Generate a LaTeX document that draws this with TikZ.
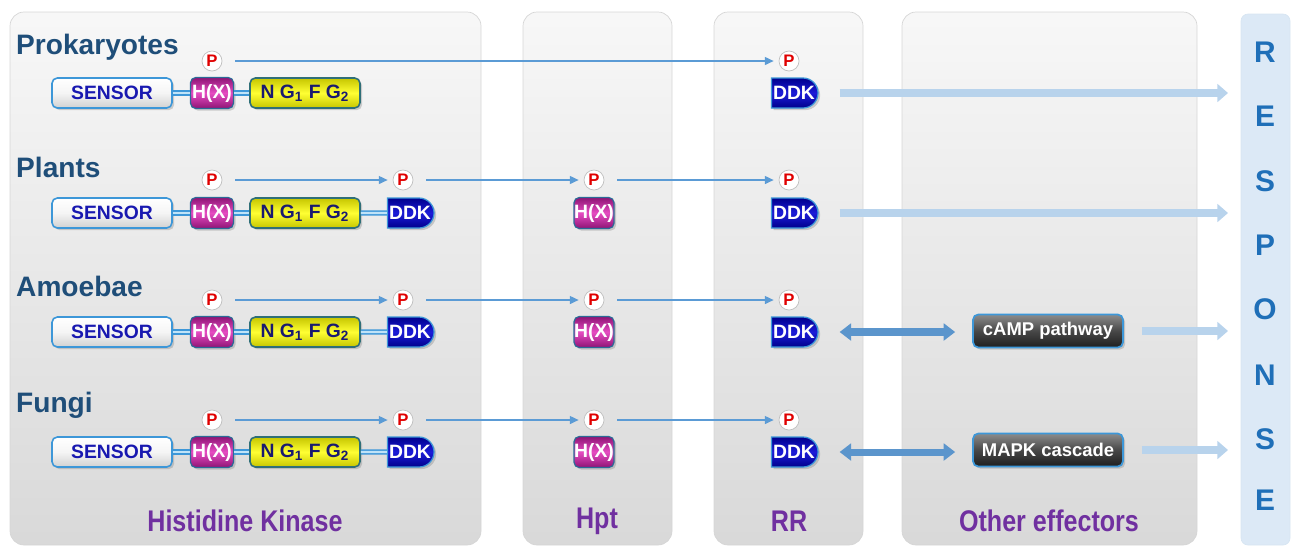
\documentclass[tikz,border=0pt]{standalone}
\usepackage{fontspec}
\setmainfont{Liberation Sans}
\usetikzlibrary{arrows.meta,shapes.misc,shadows}

\definecolor{rowblue}{HTML}{1F4E79}
\definecolor{labpurple}{HTML}{7030A0}
\definecolor{linkblue}{HTML}{3D97D8}
\definecolor{linklight}{HTML}{BFE3F8}
\definecolor{thinblue}{HTML}{5B9BD5}
\definecolor{fatblue}{HTML}{B8D3EC}
\definecolor{dblblue}{HTML}{5B95CC}
\definecolor{respblue}{HTML}{1F6FB8}
\definecolor{respfill}{HTML}{DCE9F6}
\definecolor{sensortext}{HTML}{1818B0}
\definecolor{hxdark}{HTML}{8E1474}
\definecolor{hxlight}{HTML}{E64CC2}
\definecolor{ddkdark}{HTML}{00008C}
\definecolor{ddklight}{HTML}{1C1CD8}
\definecolor{ngyellow}{HTML}{E8E800}
\definecolor{ngborder}{HTML}{2F6F78}
\definecolor{ngtext}{HTML}{1A1A70}
\definecolor{pred}{HTML}{E00000}

\newcommand{\boxfont}{\fontsize{11}{12}\selectfont\bfseries}

\tikzset{
  panel/.style={rounded corners=8pt, draw=black!16, top color=black!3, bottom color=black!15},
  shadowed/.style={drop shadow={opacity=0.35, shadow xshift=1.2pt, shadow yshift=-1.2pt}},
  sensorbox/.style={rectangle, rounded corners=3pt, draw=linkblue, line width=0.9pt, top color=white, bottom color=black!18, middle color=black!4,
    minimum width=2.4cm, minimum height=0.6cm, inner sep=0pt, text=sensortext, font=\boxfont, shadowed},
  hxbox/.style={rectangle, rounded corners=3pt, draw=linkblue!70!black, line width=0.7pt, top color=hxdark, bottom color=hxdark, middle color=hxlight,
    minimum width=0.86cm, minimum height=0.62cm, inner sep=0pt, text=white, font=\boxfont, shadowed},
  ngbox/.style={rectangle, rounded corners=3pt, draw=ngborder, line width=0.9pt, top color=ngyellow!85!black, bottom color=ngyellow!85!black, middle color=yellow!80!white,
    minimum width=2.2cm, minimum height=0.6cm, inner sep=0pt, text=ngtext, font=\boxfont, shadowed},
  ddkbox/.style={rounded rectangle, rounded rectangle left arc=none, draw=linkblue, line width=0.7pt, top color=ddkdark, bottom color=ddkdark, middle color=ddklight,
    minimum width=1.0cm, minimum height=0.6cm, inner sep=1pt, text=white, font=\boxfont, shadowed},
  effbox/.style={rectangle, rounded corners=3pt, draw=linkblue, line width=1pt, top color=black!45, bottom color=black!88, middle color=black!72,
    minimum width=3.0cm, minimum height=0.66cm, inner sep=0pt, text=white, font=\fontsize{10.5}{12}\selectfont\bfseries, shadowed},
  pcircle/.style={circle, draw=black!25, fill=white, minimum size=0.4cm, inner sep=0pt, text=pred, font=\fontsize{9.5}{10}\selectfont\bfseries},
  linker/.style={draw=linkblue, double=linklight, double distance=1.4pt, line width=0.75pt},
  thinarrow/.style={draw=thinblue, line width=0.8pt, -{Triangle[length=5pt,width=4.5pt]}, shorten <=0.26cm, shorten >=0.1cm},
  fatarrow/.style={draw=fatblue, line width=5pt, -{Triangle[length=6pt,width=10pt]}},
  dblarrow/.style={draw=dblblue, line width=4pt, {Triangle[length=6.5pt,width=9.5pt]}-{Triangle[length=6.5pt,width=9.5pt]}, shorten <=0.42cm, shorten >=0.34cm},
  rowlabel/.style={anchor=west, text=rowblue, font=\fontsize{16}{18}\selectfont\bfseries},
  collabel/.style={text=labpurple, font=\fontsize{17}{19}\selectfont\bfseries},
  resplabel/.style={text=respblue, font=\fontsize{17}{19}\selectfont\bfseries}
}

\begin{document}
\begin{tikzpicture}[x=0.02cm, y=-0.02cm]
		%%%%% START %%%%%
		\useasboundingbox (0,0) rectangle (1293,549);
		
		% columns
		\draw[panel] (10,12) rectangle (481,545);
		\draw[panel] (523,12) rectangle (672,545);
		\draw[panel] (714,12) rectangle (863,545);
		\draw[panel] (902,12) rectangle (1197,545);
		\draw[rounded corners=4pt, draw=respblue!18, fill=respfill] (1241,14) rectangle (1290,545);
		
		\node[collabel] (colhk) at (245,521) {\scalebox{0.84}[1]{Histidine Kinase}};
		\node[collabel] (colhpt) at (597,521) {\scalebox{0.84}[1]{Hpt}};
		\node[collabel] (colrr) at (789,521) {\scalebox{0.84}[1]{RR}};
		\node[collabel] (coloth) at (1049,521) {\scalebox{0.84}[1]{Other effectors}};
		
		\node[resplabel] (r1) at (1265,52) {R};
		\node[resplabel] (r2) at (1265,116) {E};
		\node[resplabel] (r3) at (1265,181) {S};
		\node[resplabel] (r4) at (1265,245) {P};
		\node[resplabel] (r5) at (1265,309) {O};
		\node[resplabel] (r6) at (1265,375) {N};
		\node[resplabel] (r7) at (1265,439) {S};
		\node[resplabel] (r8) at (1265,500) {E};
		\coordinate (endR) at (1228,0);
		
		% Prokaryotes
		\node[rowlabel] (lab1) at (10,47) {Prokaryotes};
		\node[sensorbox] (sen1) at (112,93) {SENSOR};
		\node[hxbox] (hx1) at (212,93) {H(X)};
		\node[ngbox] (ng1) at (305,93) {N G\textsubscript{1} F G\textsubscript{2}};
		\node[ddkbox] (rr1) at (794,93) {DDK};
		\node[pcircle] (p1h) at (212,61) {P};
		\node[pcircle] (p1r) at (789,61) {P};
		\draw[linker] (sen1) -- (hx1);
		\draw[linker] (hx1) -- (ng1);
		\draw[thinarrow] (p1h) -- (p1r);
		\draw[fatarrow, shorten <=0.42cm] (rr1.east) -- (rr1.east -| endR);
		
		% Plants
		\node[rowlabel] (lab2) at (10,167) {Plants};
		\node[sensorbox] (sen2) at (112,213) {SENSOR};
		\node[hxbox] (hx2) at (212,213) {H(X)};
		\node[ngbox] (ng2) at (305,213) {N G\textsubscript{1} F G\textsubscript{2}};
		\node[ddkbox] (dk2) at (410,213) {DDK};
		\node[hxbox, minimum width=0.8cm] (hpt2) at (594,213) {H(X)};
		\node[ddkbox] (rr2) at (794,213) {DDK};
		\node[pcircle] (p2h) at (212,180) {P};
		\node[pcircle] (p2d) at (403,180) {P};
		\node[pcircle] (p2t) at (594,180) {P};
		\node[pcircle] (p2r) at (789,180) {P};
		\draw[linker] (sen2) -- (hx2);
		\draw[linker] (hx2) -- (ng2);
		\draw[linker] (ng2) -- (dk2);
		\draw[thinarrow] (p2h) -- (p2d);
		\draw[thinarrow] (p2d) -- (p2t);
		\draw[thinarrow] (p2t) -- (p2r);
		\draw[fatarrow, shorten <=0.42cm] (rr2.east) -- (rr2.east -| endR);
		
		% Amoebae
		\node[rowlabel] (lab3) at (10,286) {Amoebae};
		\node[sensorbox] (sen3) at (112,332) {SENSOR};
		\node[hxbox] (hx3) at (212,332) {H(X)};
		\node[ngbox] (ng3) at (305,332) {N G\textsubscript{1} F G\textsubscript{2}};
		\node[ddkbox] (dk3) at (410,332) {DDK};
		\node[hxbox, minimum width=0.8cm] (hpt3) at (594,332) {H(X)};
		\node[ddkbox] (rr3) at (794,332) {DDK};
		\node[effbox] (camp) at (1048,331) {cAMP pathway};
		\node[pcircle] (p3h) at (212,300) {P};
		\node[pcircle] (p3d) at (403,300) {P};
		\node[pcircle] (p3t) at (594,300) {P};
		\node[pcircle] (p3r) at (789,300) {P};
		\draw[linker] (sen3) -- (hx3);
		\draw[linker] (hx3) -- (ng3);
		\draw[linker] (ng3) -- (dk3);
		\draw[thinarrow] (p3h) -- (p3d);
		\draw[thinarrow] (p3d) -- (p3t);
		\draw[thinarrow] (p3t) -- (p3r);
		\draw[dblarrow] (rr3.east) -- (rr3.east -| camp.west);
		\draw[fatarrow, shorten <=0.36cm] (camp.east) -- (camp.east -| endR);
		
		% Fungi
		\node[rowlabel] (lab4) at (10,405) {Fungi};
		\node[sensorbox] (sen4) at (112,452) {SENSOR};
		\node[hxbox] (hx4) at (212,452) {H(X)};
		\node[ngbox] (ng4) at (305,452) {N G\textsubscript{1} F G\textsubscript{2}};
		\node[ddkbox] (dk4) at (410,452) {DDK};
		\node[hxbox, minimum width=0.8cm] (hpt4) at (594,452) {H(X)};
		\node[ddkbox] (rr4) at (794,452) {DDK};
		\node[effbox] (mapk) at (1048,450) {MAPK cascade};
		\node[pcircle] (p4h) at (212,420) {P};
		\node[pcircle] (p4d) at (403,420) {P};
		\node[pcircle] (p4t) at (594,420) {P};
		\node[pcircle] (p4r) at (789,420) {P};
		\draw[linker] (sen4) -- (hx4);
		\draw[linker] (hx4) -- (ng4);
		\draw[linker] (ng4) -- (dk4);
		\draw[thinarrow] (p4h) -- (p4d);
		\draw[thinarrow] (p4d) -- (p4t);
		\draw[thinarrow] (p4t) -- (p4r);
		\draw[dblarrow] (rr4.east) -- (rr4.east -| mapk.west);
		\draw[fatarrow, shorten <=0.36cm] (mapk.east) -- (mapk.east -| endR);
		
		%%%%% END %%%%%
	\end{tikzpicture}
\end{document}
